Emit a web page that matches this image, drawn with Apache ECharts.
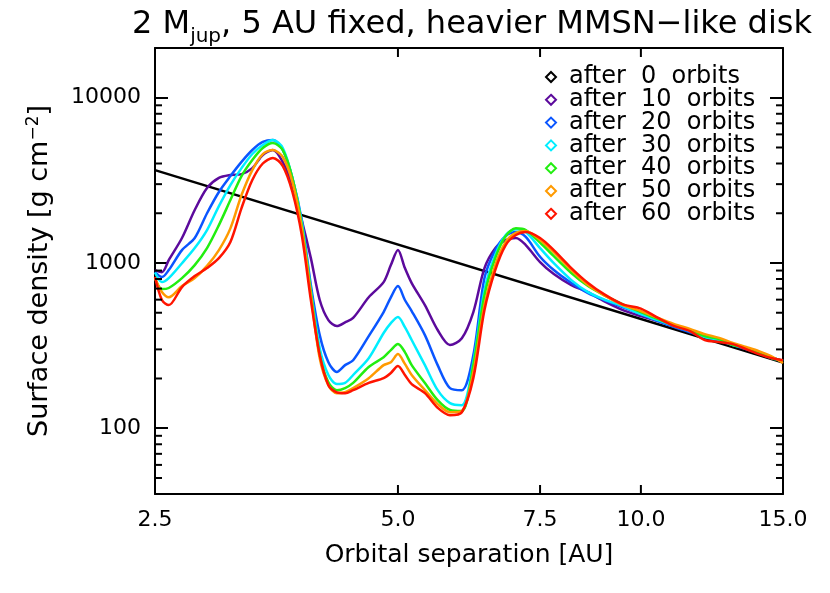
<!DOCTYPE html>
<html><head><meta charset="utf-8">
<script src="https://cdn.jsdelivr.net/npm/echarts@6/dist/echarts.min.js"></script>
<style>html,body{margin:0;padding:0;background:#fff}#c{width:830px;height:593px}</style>
</head><body><div id="c"></div>
<script>
// ---------------- data ----------------
const radius = [2.5,2.55,2.6,2.7,2.8,2.9,3.0,3.1,3.2,3.3,3.4,3.5,3.6,3.7,3.8,3.9,4.0,4.1,4.2,4.3,4.4,4.6,4.8,4.9,5.0,5.1,5.2,5.4,5.6,5.8,6.0,6.2,6.4,6.6,6.8,7.0,7.2,7.5,7.8,8.2,8.6,9.0,9.5,10,10.5,11,11.5,12,12.5,13,13.5,14,14.5,15];

const orbits0X = [2.5, 15];
const orbits0  = [3650, 250];

const orbits10 = [906,880,1041,1416,2091,2840,3270,3405,3450,3750,4501,4827,4080,2963,1818,1070,597,451,415,437,465,620,766,971,1197,932,756,556,393,319,350,505,932,1230,1376,1416,1284,1013,857,735,667,588,519,477,445,415,387,361,342,323,301,285,269,255];
const orbits20 = [880,822,906,1197,1416,2000,2690,3355,4090,4827,5400,5548,4827,3270,1818,735,366,251,219,241,258,361,505,620,725,597,512,366,241,175,170,277,810,1197,1457,1540,1437,1090,906,757,657,597,540,490,445,409,381,356,337,319,301,285,266,255];
const orbits30 = [875,766,810,997,1231,1582,2210,2963,3750,4565,5173,5548,4960,3270,1770,686,305,210,185,188,210,265,377,433,471,409,342,241,170,142,138,251,686,1117,1476,1603,1540,1230,997,788,667,603,547,490,451,415,387,356,342,319,306,285,269,255];
const orbits40 = [810,695,706,810,971,1231,1696,2404,3355,4198,4960,5320,4827,3270,1696,667,277,190,170,175,188,235,269,297,323,289,241,188,148,129,127,241,639,1070,1457,1620,1582,1330,1100,870,725,639,562,505,458,421,393,361,347,319,306,285,266,255];
const orbits50 = [810,667,620,725,810,960,1197,1620,2578,3651,4565,4827,4380,3090,1630,639,265,182,163,165,175,201,241,251,281,245,210,170,140,125,127,218,556,971,1340,1520,1560,1376,1160,906,735,639,556,512,465,427,399,371,352,328,310,293,273,248];
const orbits60 = [822,597,556,715,833,932,1070,1340,2150,3177,4000,4320,3860,2690,1476,597,277,182,165,163,170,188,201,216,238,210,185,163,133,120,125,201,519,906,1284,1476,1540,1416,1197,932,757,648,562,530,465,415,387,342,333,323,301,281,266,258];

const seriesNames = ['after 0 orbits','after 10 orbits','after 20 orbits','after 30 orbits','after 40 orbits','after 50 orbits','after 60 orbits'];
const xTickLabels = [2.5, 5.0, 7.5, 10.0, 15.0];
const yTickLabels = [100, 1000, 10000];
const yMinorTicks = [50,60,70,80,90,200,300,400,500,600,700,800,900,2000,3000,4000,5000,6000,7000,8000,9000];

// ---------------- styling ----------------
const FONT = 'DejaVu Sans';
const colors = ['#000000','#5c0a9c','#0a55ff','#00eeff','#22ee10','#ff9a00','#ff1400'];
const X_MIN = 2.5, X_MAX = 15, Y_MIN = 40, Y_MAX = 20000;

const zip = (xs, ys) => xs.map((x, i) => [x, ys[i]]);
const curves = [orbits10, orbits20, orbits30, orbits40, orbits50, orbits60];

const series = [{
  name: seriesNames[0], type: 'line', data: zip(orbits0X, orbits0),
  symbol: 'none', lineStyle: {color: colors[0], width: 2.5}, itemStyle: {color: colors[0]}, z: 2
}].concat(curves.map((arr, i) => ({
  name: seriesNames[i + 1], type: 'line', data: zip(radius, arr),
  symbol: 'none', smooth: 0.3,
  lineStyle: {color: colors[i + 1], width: 2.5}, itemStyle: {color: colors[i + 1]}, z: 3
})));

// x ticks (bottom and top) and labels
series.push({
  type: 'custom', silent: true, clip: false, z: 5,
  data: xTickLabels.map(v => [v, Y_MIN]),
  renderItem: (params, api) => {
    const x = api.value(0);
    const b = api.coord([x, Y_MIN]);
    const t = api.coord([x, Y_MAX]);
    return {type: 'group', children: [
      {type: 'line', shape: {x1: b[0], y1: b[1], x2: b[0], y2: b[1] - 9}, style: {stroke: '#000', lineWidth: 2}},
      {type: 'line', shape: {x1: t[0], y1: t[1], x2: t[0], y2: t[1] + 9}, style: {stroke: '#000', lineWidth: 2}},
      {type: 'text', x: b[0], y: b[1] + 15, style: {text: x.toFixed(1), fontSize: 22, fontFamily: FONT, fill: '#000', align: 'center', verticalAlign: 'top'}}
    ]};
  }
});
// y minor ticks (left and right)
series.push({
  type: 'custom', silent: true, clip: false, z: 5,
  data: yMinorTicks.map(v => [X_MIN, v]),
  renderItem: (params, api) => {
    const v = api.value(1);
    const l = api.coord([X_MIN, v]);
    const r = api.coord([X_MAX, v]);
    return {type: 'group', children: [
      {type: 'line', shape: {x1: l[0], y1: l[1], x2: l[0] + 7, y2: l[1]}, style: {stroke: '#000', lineWidth: 2}},
      {type: 'line', shape: {x1: r[0], y1: r[1], x2: r[0] - 7, y2: r[1]}, style: {stroke: '#000', lineWidth: 2}}
    ]};
  }
});

const axisLine = {show: true, onZero: false, lineStyle: {color: '#000', width: 2}};
const yTick = {show: true, inside: true, length: 13, lineStyle: {color: '#000', width: 2}};

const option = {
  animation: false,
  backgroundColor: '#fff',
  title: {
    text: '2 M{sub|jup}, 5 AU fixed, heavier MMSN\u2212like disk',
    left: 467, top: -2, textAlign: 'center',
    textStyle: {
      fontFamily: FONT, fontSize: 32, fontWeight: 'normal', color: '#000',
      rich: {sub: {fontFamily: FONT, fontSize: 20, color: '#000', verticalAlign: 'bottom', padding: [24, 0, 0, 0]}}
    }
  },
  legend: {
    orient: 'vertical', left: 540, top: 60, itemWidth: 10, itemHeight: 10, itemGap: -1.2,
    selectedMode: false,
    data: seriesNames.map((n, i) => ({name: n, icon: 'diamond', itemStyle: {color: '#fff', borderColor: colors[i], borderWidth: 2}})),
    formatter: n => n.replace(/ /g, '  '),
    textStyle: {fontFamily: FONT, fontSize: 24, color: '#000', lineHeight: 22.5, padding: [0, 0, 0, 8]}
  },
  grid: {left: 155, right: 47, top: 48, bottom: 99, containLabel: false, outerBoundsMode: 'none'},
  xAxis: [
    {type: 'log', min: X_MIN, max: X_MAX, position: 'bottom', axisLine,
     axisTick: {show: false}, axisLabel: {show: false}, splitLine: {show: false}, minorTick: {show: false},
     name: 'Orbital separation [AU]', nameLocation: 'middle', nameGap: 49,
     nameTextStyle: {fontFamily: FONT, fontSize: 25, color: '#000'}},
    {type: 'log', min: X_MIN, max: X_MAX, position: 'top', axisLine,
     axisTick: {show: false}, axisLabel: {show: false}, splitLine: {show: false}}
  ],
  yAxis: [
    {type: 'log', min: Y_MIN, max: Y_MAX, position: 'left', axisLine, axisTick: yTick,
     axisLabel: {fontFamily: FONT, fontSize: 22, color: '#000', margin: 14, showMinLabel: false, showMaxLabel: false,
                 formatter: v => (yTickLabels.indexOf(Math.round(v)) >= 0 ? String(Math.round(v)) : '')},
     splitLine: {show: false},
     name: 'Surface density [g cm{sup|\u22122}]', nameLocation: 'middle', nameGap: 101,
     nameTextStyle: {fontFamily: FONT, fontSize: 27, color: '#000',
       rich: {sup: {fontFamily: FONT, fontSize: 17, color: '#000', verticalAlign: 'top', padding: [0, 0, 12, 0]}}}},
    {type: 'log', min: Y_MIN, max: Y_MAX, position: 'right', axisLine, axisTick: yTick,
     axisLabel: {show: false}, splitLine: {show: false}}
  ],
  series
};

const chart = echarts.init(document.getElementById('c'), null, {renderer: 'canvas'});
chart.setOption(option);
</script>
</body></html>
